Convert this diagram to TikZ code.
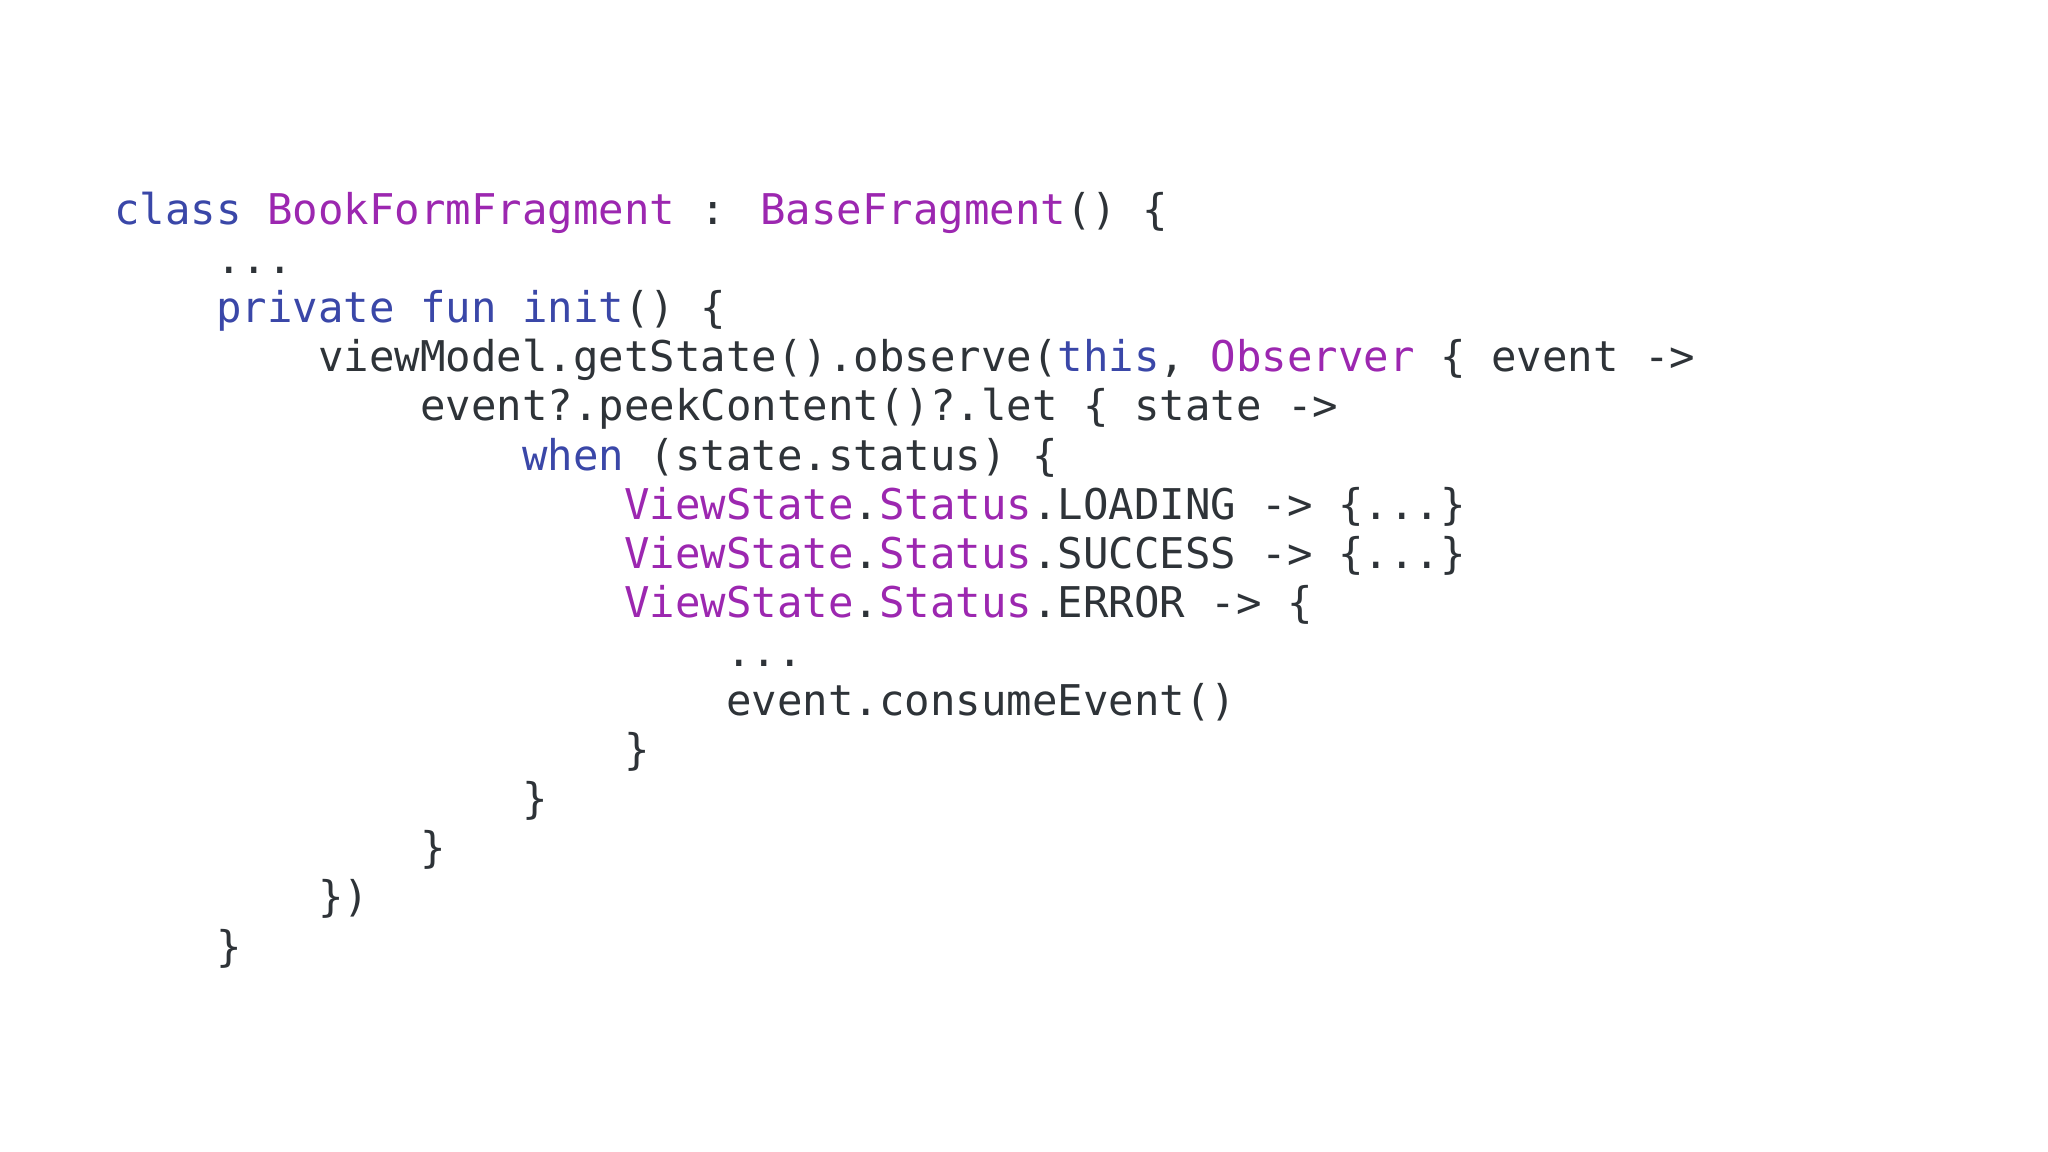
\documentclass[tikz,border=0pt]{standalone}
\usepackage{fontspec}
\newfontfamily\codefont{DejaVu Sans Mono}
\definecolor{kwc}{HTML}{3A47A8}
\definecolor{tyc}{HTML}{9C27B0}
\definecolor{txc}{HTML}{2E3338}
\newcommand\kw[1]{\textcolor{kwc}{#1}}
\newcommand\ty[1]{\textcolor{tyc}{#1}}
\tikzset{codeln/.style={anchor=base west,inner sep=0pt,font=\codefont\fontsize{12.05pt}{14pt}\selectfont,text=txc}}
\newcommand\codeline[3]{\node[codeln] (l#1) at ({1.136+0.255*#2},{-2.246-0.491*#1}) {#3};}
\begin{document}
\begin{tikzpicture}
\useasboundingbox (0,0) rectangle (20.48,-11.52);
\fill[white] (0,0) rectangle (20.48,-11.52);
\codeline{0}{0}{\kw{class} \ty{BookFormFragment} : \ty{BaseFragment}() \{}
\codeline{1}{4}{...}
\codeline{2}{4}{\kw{private} \kw{fun} \kw{init}() \{}
\codeline{3}{8}{viewModel.getState().observe(\kw{this}, \ty{Observer} \{ event ->}
\codeline{4}{12}{event?.peekContent()?.let \{ state ->}
\codeline{5}{16}{\kw{when} (state.status) \{}
\codeline{6}{20}{\ty{ViewState}.\ty{Status}.LOADING -> \{...\}}
\codeline{7}{20}{\ty{ViewState}.\ty{Status}.SUCCESS -> \{...\}}
\codeline{8}{20}{\ty{ViewState}.\ty{Status}.ERROR -> \{}
\codeline{9}{24}{...}
\codeline{10}{24}{event.consumeEvent()}
\codeline{11}{20}{\}}
\codeline{12}{16}{\}}
\codeline{13}{12}{\}}
\codeline{14}{8}{\})}
\codeline{15}{4}{\}}
\end{tikzpicture}
\end{document}
